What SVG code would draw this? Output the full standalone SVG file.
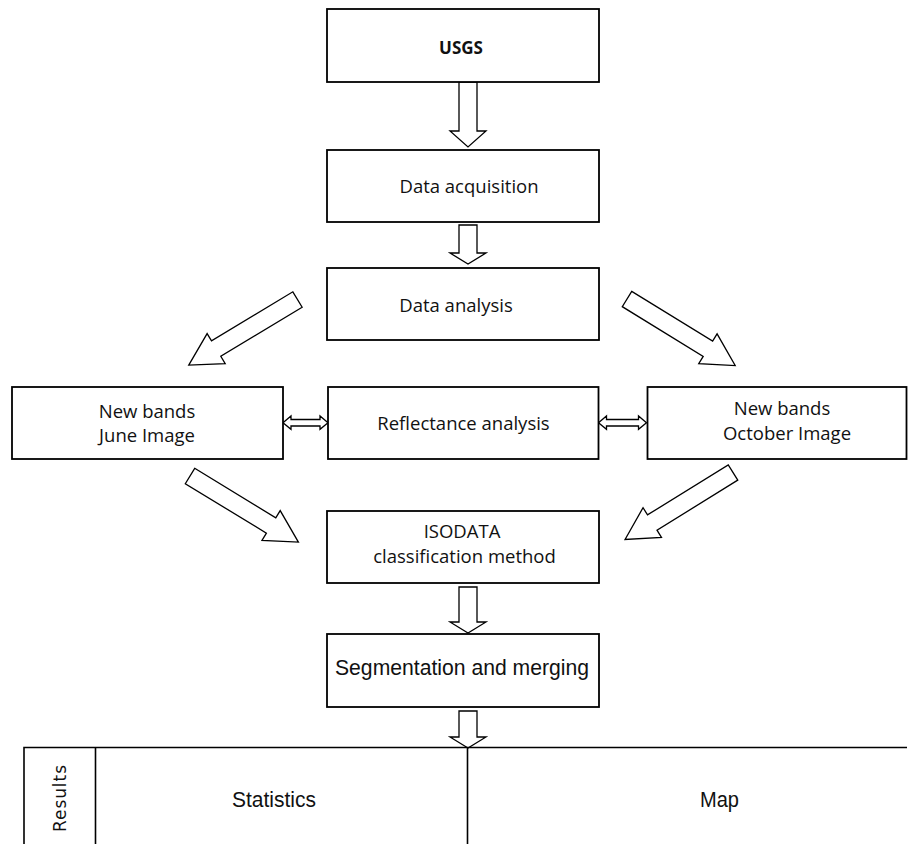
<svg xmlns="http://www.w3.org/2000/svg" xmlns:xlink="http://www.w3.org/1999/xlink" width="909" height="844" viewBox="0 0 909 844">
<style>
.box{fill:#fff;stroke:#000;stroke-width:1.8}
.arr{fill:#fff;stroke:#000;stroke-width:1.3;stroke-linejoin:miter}
.t{font-family:"Open Sans","Noto Sans",sans-serif;font-size:18.5px;fill:#111;text-anchor:middle}
.b{font-family:"Open Sans","Noto Sans",sans-serif;font-size:17px;font-weight:bold;fill:#111;text-anchor:middle}
.a{font-family:"Liberation Sans",Arial,sans-serif;font-size:22px;fill:#111;text-anchor:middle}
.tbl{fill:none;stroke:#000;stroke-width:1.6}
</style>
<defs>
<path id="diag" d="M0,-9 L95,-9 L95,-17.5 L127,0 L95,17.5 L95,9 L0,9 Z"/>
</defs>
<rect width="909" height="844" fill="#fff"/>
<g id="connectors">
<polygon class="arr" points="459,82 477,82 477,131 486,131 468,147 450,131 459,131"/>
<polygon class="arr" points="459,225 477,225 477,253 486,253 468,264 450,253 459,253"/>
<use href="#diag" class="arr" transform="translate(297.5,299.5) rotate(148.9)"/>
<use href="#diag" class="arr" transform="translate(627,299) rotate(31.6)"/>
<polygon class="arr" points="283,422.7 291,416 291,419.5 320,419.5 320,416 328,422.7 320,429.3 320,426 291,426 291,429.3"/>
<polygon class="arr" points="598.5,422.7 606.5,416 606.5,419.5 638.5,419.5 638.5,416 646.5,422.7 638.5,429.3 638.5,426 606.5,426 606.5,429.3"/>
<use href="#diag" class="arr" transform="translate(190,476) rotate(31.4)"/>
<use href="#diag" class="arr" transform="translate(733,472.5) rotate(148.2)"/>
<polygon class="arr" points="459,587 477,587 477,622 486,622 468,633 450,622 459,622"/>
<polygon class="arr" points="459,711 477,711 477,737 486,737 468,748 450,737 459,737"/>
</g>
<g id="usgs"><rect class="box" x="327" y="9" width="272" height="73"/><text class="b" x="461" y="54">USGS</text></g>
<g id="acquisition"><rect class="box" x="327" y="150" width="272" height="72"/><text class="t" x="469" y="193">Data acquisition</text></g>
<g id="analysis"><rect class="box" x="327" y="268" width="272" height="72"/><text class="t" x="456" y="311.5">Data analysis</text></g>
<g id="june"><rect class="box" x="12" y="387" width="271" height="72"/><text class="t" x="147" y="418">New bands</text><text class="t" x="147" y="442">June Image</text></g>
<g id="reflectance"><rect class="box" x="328" y="387" width="270.5" height="72"/><text class="t" x="463.5" y="430">Reflectance analysis</text></g>
<g id="october"><rect class="box" x="647.5" y="387" width="259" height="72"/><text class="t" x="782" y="415">New bands</text><text class="t" x="787" y="440">October Image</text></g>
<g id="isodata"><rect class="box" x="327" y="511" width="272" height="72"/><text class="t" x="462" y="538">ISODATA</text><text class="t" x="464.5" y="563">classification method</text></g>
<g id="segmentation"><rect class="box" x="327" y="634" width="272" height="73"/><text class="a" x="462" y="675" font-size="24" textLength="254" lengthAdjust="spacingAndGlyphs">Segmentation and merging</text></g>
<g id="results">
<path class="tbl" d="M24,844 V747.5 H907 M95.5,747.5 V844 M467.5,747.5 V844"/>
<text font-family="'DejaVu Sans',Verdana,sans-serif" font-size="17" fill="#111" text-anchor="middle" textLength="67" transform="translate(66,798.5) rotate(-90)">Results</text>
<text class="a" x="274" y="807" textLength="84" lengthAdjust="spacingAndGlyphs">Statistics</text>
<text class="a" x="719.5" y="807" textLength="39" lengthAdjust="spacingAndGlyphs">Map</text>
</g>
</svg>
